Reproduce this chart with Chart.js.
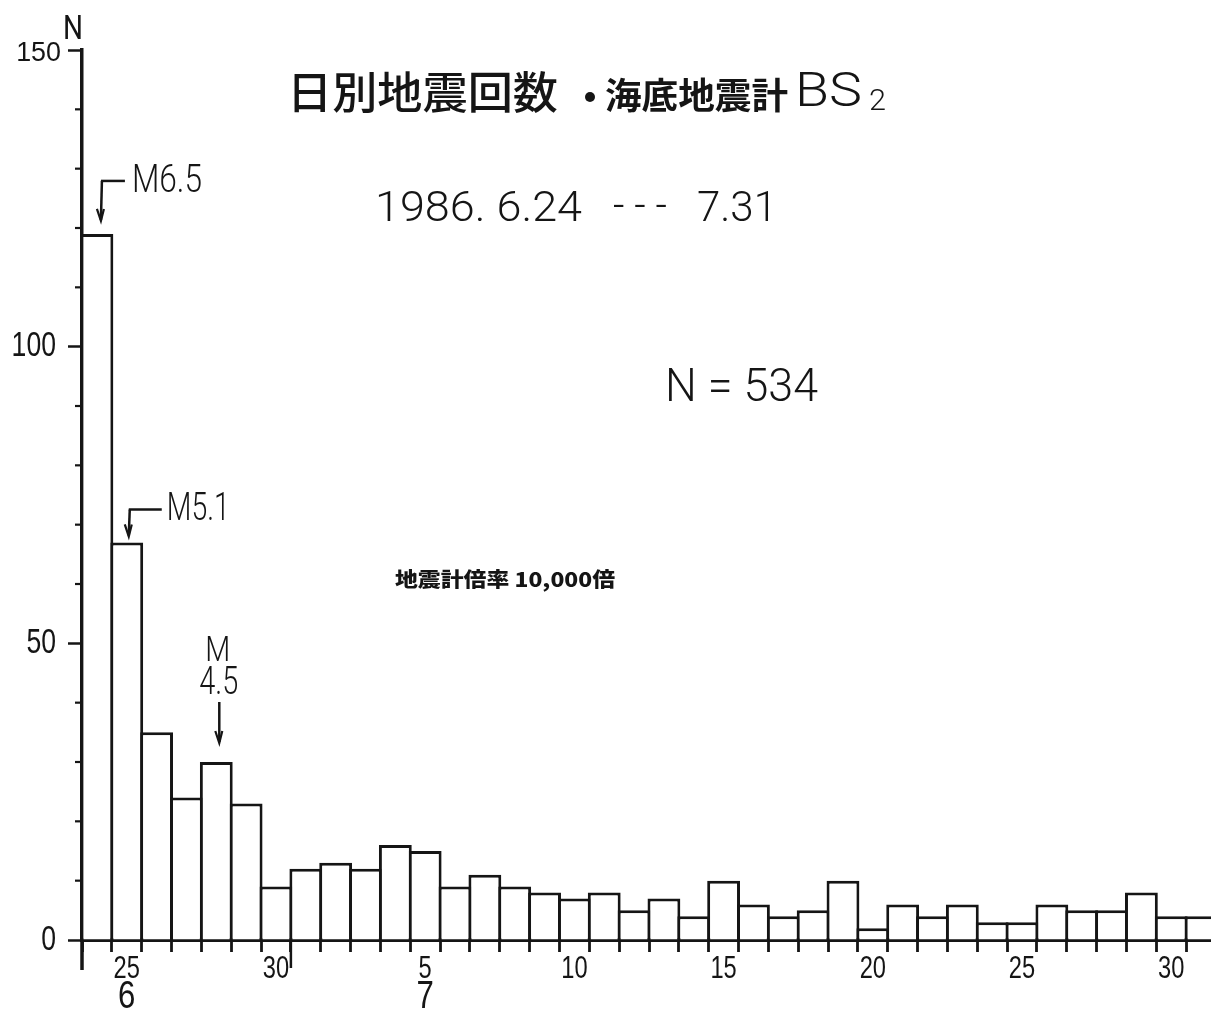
<!DOCTYPE html>
<html>
<head>
<meta charset="utf-8">
<script src="https://cdn.jsdelivr.net/npm/chart.js@4/dist/chart.umd.min.js"></script>
<style>
  html, body { margin: 0; padding: 0; background: #fff; overflow: hidden; }
  #wrap { position: relative; width: 1216px; height: 1012px; }
</style>
</head>
<body>
<div id="wrap"><canvas id="c" width="1216" height="1012"></canvas></div>
<script>
// Daily event counts, ocean-bottom seismometer BS2, 1986-06-24 .. 1986-07-31
const days = [
  '24','25','26','27','28','29','30',
  '1','2','3','4','5','6','7','8','9','10','11','12','13','14','15','16',
  '17','18','19','20','21','22','23','24','25','26','27','28','29','30','31'
];
const counts = [
  119, 67, 35, 24, 30, 23, 9,
  12, 13, 12, 16, 15, 9, 11, 9, 8, 7, 8, 5, 7, 4, 10, 6,
  4, 5, 10, 2, 6, 4, 6, 3, 3, 6, 5, 5, 8, 4, 4
];
const yTicks = [0, 50, 100, 150];
const months = ['6', '7'];
const monthLabelDay = ['25', '5'];
const shockIndex = [0, 1, 4];
const shockLabel = ['M6.5', 'M5.1', 'M4.5'];

const INK = '#151515';
const SANS = '"Liberation Sans", Arimo, sans-serif';
const THIN = 'Roboto, "Liberation Sans", sans-serif';
const CJK = '"Noto Sans CJK JP", "Noto Sans CJK SC", sans-serif';

// draw text squeezed/stretched horizontally into [left, left+width], centred on cy
function fitText(ctx, text, left, cy, width, font) {
  ctx.save();
  ctx.font = font;
  ctx.textAlign = 'left';
  ctx.textBaseline = 'middle';
  const w = ctx.measureText(text).width;
  ctx.translate(left, cy);
  ctx.scale(width / w, 1);
  ctx.fillText(text, 0, 0);
  ctx.restore();
}

// draw text with a fixed horizontal squeeze factor, anchored by align
function narrowText(ctx, text, x, cy, sx, font, align) {
  ctx.save();
  ctx.font = font;
  ctx.textAlign = align;
  ctx.textBaseline = 'middle';
  ctx.translate(x, cy);
  ctx.scale(sx, 1);
  ctx.fillText(text, 0, 0);
  ctx.restore();
}

function line(ctx, x1, y1, x2, y2, w) {
  ctx.beginPath();
  ctx.lineWidth = w;
  ctx.moveTo(x1, y1);
  ctx.lineTo(x2, y2);
  ctx.stroke();
}

function arrowHead(ctx, x, y) {
  ctx.beginPath();
  ctx.lineWidth = 2.2;
  ctx.moveTo(x - 4, y - 12);
  ctx.lineTo(x, y);
  ctx.lineTo(x + 3, y - 12);
  ctx.stroke();
}

const decor = {
  id: 'decor',
  afterDraw(chart) {
    const ctx = chart.ctx;
    const xs = chart.scales.x, ys = chart.scales.y;
    const x0 = xs.left, y0 = ys.bottom;
    ctx.save();
    ctx.strokeStyle = INK;
    ctx.fillStyle = INK;
    ctx.lineCap = 'butt';

    // value labels of the vertical axis (narrow lettering)
    ys.ticks.forEach(t => {
      const y = ys.getPixelForValue(t.value);
      if (t.value === 150) {
        narrowText(ctx, String(t.value), x0 - 21, y + 3, 0.96, '28px ' + SANS, 'right');
      } else {
        narrowText(ctx, String(t.value), x0 - 26, y, 0.76, '35px ' + SANS, 'right');
      }
    });
    // minor ticks every 10 events
    for (let v = 10; v < 150; v += 10) {
      if (v % 50 === 0) continue;
      const y = ys.getPixelForValue(v);
      line(ctx, x0 - 7, y, x0, y, 2.2);
    }
    // day labels every five days
    days.forEach((d, i) => {
      if (Number(d) % 5 !== 0) return;
      narrowText(ctx, d, xs.getPixelForValue(i), y0 + 29, 0.74, '32px ' + SANS, 'center');
    });
    // vertical axis runs on below the baseline
    line(ctx, x0, y0, x0, y0 + 30, 3.5);
    // longer tick where the month changes
    const monthStart = days.indexOf('1');
    const bx = (xs.getPixelForValue(monthStart - 1) + xs.getPixelForValue(monthStart)) / 2;
    line(ctx, bx, y0, bx, y0 + 28, 2.5);

    // month numbers under the day labels
    months.forEach((m, k) => {
      const idx = days.indexOf(monthLabelDay[k], k === 0 ? 0 : monthStart);
      narrowText(ctx, m, xs.getPixelForValue(idx), y0 + 58, 0.82, '38px ' + SANS, 'center');
    });

    // unit label on top of the vertical axis
    fitText(ctx, 'N', x0 - 19, 30, 20, '34px ' + THIN);

    // magnitude notes on the main shocks
    const meta = chart.getDatasetMeta(0).data;
    shockIndex.forEach((i, k) => {
      const cx = meta[i].x;
      const top = ys.getPixelForValue(counts[i]);
      if (k === 0) {
        const ax = cx + 4;
        line(ctx, ax, top - 14, ax + 1, top - 53, 2.5);
        line(ctx, ax, top - 53, cx + 28, top - 53, 2.5);
        arrowHead(ctx, ax, top - 13);
        fitText(ctx, shockLabel[k], cx + 35, top - 51, 70, '300 38px ' + THIN);
      } else if (k === 1) {
        const ax = cx + 2;
        line(ctx, ax, top - 7, ax + 1, top - 33, 2.5);
        line(ctx, ax, top - 33, cx + 35, top - 33, 2.5);
        arrowHead(ctx, ax, top - 6);
        fitText(ctx, shockLabel[k], cx + 40, top - 32, 63, '300 39px ' + THIN);
      } else {
        const ax = cx + 3;
        line(ctx, ax, top - 60, ax, top - 20, 2.5);
        arrowHead(ctx, ax, top - 19);
        const parts = [shockLabel[k].slice(0, 1), shockLabel[k].slice(1)];
        fitText(ctx, parts[0], cx - 11, top - 110, 25, '300 35px ' + THIN);
        fitText(ctx, parts[1], cx - 17, top - 78, 39, '300 39px ' + THIN);
      }
    });

    // headings
    fitText(ctx, '日別地震回数', 287, 92, 271, '500 44px ' + CJK);
    ctx.beginPath();
    ctx.arc(590, 97, 5, 0, Math.PI * 2);
    ctx.fill();
    fitText(ctx, '海底地震計', 605, 95, 183, '700 36px ' + CJK);
    fitText(ctx, 'BS', 795, 94, 67, '300 49px ' + THIN);
    fitText(ctx, '2', 869, 103, 17, '300 29px ' + THIN);
    fitText(ctx, '1986. 6.24', 375, 210, 207, '300 42px ' + THIN);
    fitText(ctx, '- - -', 613, 208, 54, '300 42px ' + THIN);
    fitText(ctx, '7.31', 697, 210, 80, '300 42px ' + THIN);
    fitText(ctx, 'N = 534', 665, 389, 153, '300 46px ' + THIN);
    fitText(ctx, '地震計倍率 10,000倍', 395, 579, 220, '900 20px ' + CJK);

    ctx.restore();
  }
};

const barW = (1216 - 82) / days.length;

new Chart(document.getElementById('c'), {
  type: 'bar',
  data: {
    labels: days,
    datasets: [{
      data: counts,
      backgroundColor: '#ffffff',
      borderColor: INK,
      borderWidth: { top: 3, left: 3, right: 3, bottom: 0 },
      borderSkipped: 'start',
      barPercentage: 1 + 3 / barW,
      categoryPercentage: 1
    }]
  },
  options: {
    responsive: false,
    animation: false,
    layout: { padding: { top: 50, left: 0, right: 0, bottom: 0 } },
    plugins: { legend: { display: false }, tooltip: { enabled: false } },
    scales: {
      x: {
        offset: true,
        grid: { offset: true, drawOnChartArea: false, tickLength: 12, tickColor: INK, tickWidth: 2.8 },
        border: { color: INK, width: 4 },
        ticks: { display: false, autoSkip: false },
        afterFit: s => { s.height = 72; }
      },
      y: {
        min: 0, max: 150,
        afterBuildTicks: s => { s.ticks = yTicks.map(v => ({ value: v })); },
        grid: { drawOnChartArea: false, tickLength: 14, tickColor: INK, tickWidth: 2.5 },
        border: { color: INK, width: 3.5 },
        ticks: { display: false },
        afterFit: s => { s.width = 82; }
      }
    }
  },
  plugins: [decor]
});
</script>
</body>
</html>
